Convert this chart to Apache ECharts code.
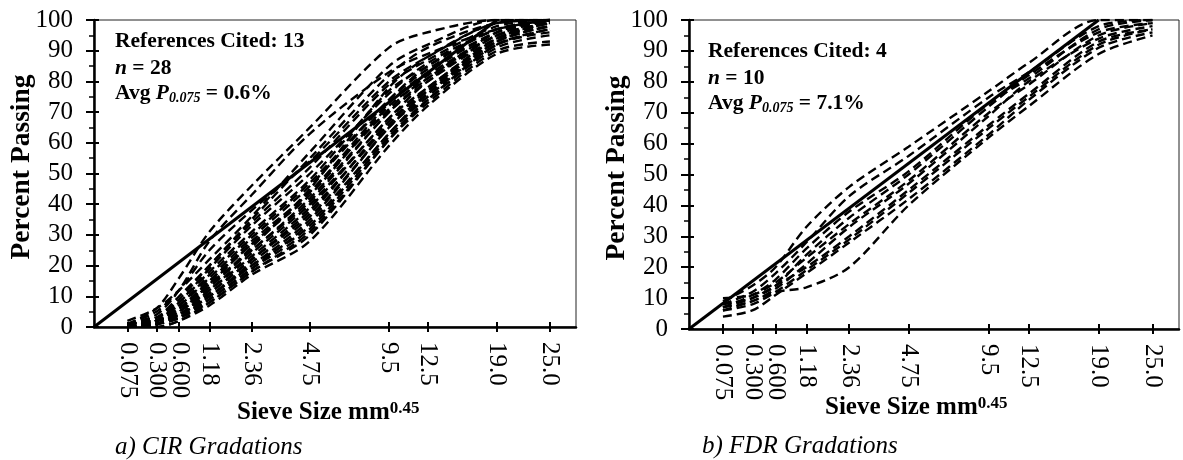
<!DOCTYPE html>
<html><head><meta charset="utf-8">
<script src="https://cdn.jsdelivr.net/npm/echarts@6/dist/echarts.min.js"></script>
<style>html,body{margin:0;padding:0;background:#fff}#c{width:1183px;height:460px}</style>
</head><body><div id="c"></div>
<script>
// ---------- data ----------
const gradationPower = 0.45;
const sieveSizes  = [0.075, 0.3, 0.6, 1.18, 2.36, 4.75, 9.5, 12.5, 19.0, 25.0];
const sieveLabels = ['0.075','0.300','0.600','1.18','2.36','4.75','9.5','12.5','19.0','25.0'];
const maxDensitySize = [0, 19.0];
const maxDensityPass = [0, 100];

// Percent passing at each sieve (0.075 ... 25.0) – CIR gradations (n = 28)
const cirGradations = [
  [1, 6, 16, 31, 46, 65, 91, 96, 100, 100],
  [1, 4, 12, 28, 43, 63, 83, 89, 97, 100],
  [1, 5, 12, 25, 38, 54, 80, 88, 99, 100],
  [1, 3, 9, 20, 34, 52, 79, 87, 98, 100],
  [0, 2, 8, 19, 33, 50, 76, 86, 97, 100],
  [1, 3, 8, 18, 31, 48, 77, 85, 97, 100],
  [0, 2, 7, 17, 30, 47, 74, 84, 96, 100],
  [1, 3, 7, 16, 29, 46, 74, 85, 97, 99],
  [0, 2, 6, 15, 28, 44, 73, 83, 96, 100],
  [1, 2, 6, 15, 27, 44, 71, 82, 95, 99],
  [0, 1, 5, 14, 27, 43, 72, 81, 96, 100],
  [1, 2, 6, 14, 25, 42, 70, 81, 95, 99],
  [0, 2, 5, 13, 25, 41, 70, 80, 94, 98],
  [0, 1, 4, 12, 24, 40, 68, 80, 95, 100],
  [1, 2, 5, 12, 23, 39, 68, 78, 94, 99],
  [0, 1, 4, 11, 22, 38, 66, 78, 93, 98],
  [0, 1, 4, 11, 22, 37, 67, 77, 94, 99],
  [1, 2, 4, 10, 21, 36, 65, 77, 93, 100],
  [0, 1, 3, 10, 20, 35, 65, 76, 92, 97],
  [0, 1, 3, 9, 19, 34, 63, 76, 93, 98],
  [1, 2, 4, 10, 20, 33, 63, 75, 92, 96],
  [0, 1, 3, 9, 19, 32, 62, 74, 91, 95],
  [0, 0, 2, 8, 18, 31, 61, 74, 92, 97],
  [1, 1, 3, 8, 18, 30, 61, 73, 90, 93],
  [0, 0, 2, 7, 17, 28, 59, 72, 89, 92],
  [2, 6, 12, 22, 36, 57, 85, 92, 100, 100],
  [1, 3, 10, 20, 35, 55, 82, 91, 99, 100],
  [0, 2, 6, 13, 26, 45, 78, 88, 99, 100]
];

// FDR gradations (n = 10)
const fdrGradations = [
  [9, 14, 20, 33, 46, 59, 77, 86, 100, 100],
  [8, 12, 18, 28, 43, 56, 75, 83, 98, 100],
  [7, 11, 16, 26, 38, 51, 73, 81, 97, 100],
  [8, 10, 14, 24, 36, 50, 72, 82, 96, 99],
  [10, 11, 15, 23, 34, 48, 70, 79, 95, 99],
  [7, 9, 13, 21, 33, 47, 69, 80, 94, 98],
  [7, 10, 14, 20, 30, 45, 66, 76, 93, 97],
  [6, 8, 12, 19, 29, 44, 65, 75, 92, 97],
  [4, 6, 11, 18, 28, 42, 63, 74, 91, 96],
  [6, 9, 12, 13.5, 20, 40, 62, 72, 89, 95]
];

// ---------- chart ----------
const SERIF = "'Liberation Serif','Times New Roman',serif";
const xTickU = sieveSizes.map(d => Math.pow(d, gradationPower));
function fmtX(v) {
  for (let i = 0; i < xTickU.length; i++) if (Math.abs(xTickU[i] - v) < 1e-6) return sieveLabels[i];
  return '';
}
const grids = [
  {left: 94, top: 20, width: 482, height: 307},
  {left: 689, top: 20, width: 490, height: 309}
];
const xAxes = [], yAxes = [], series = [];
grids.forEach((g, gi) => {
  g.show = true; g.borderColor = '#222'; g.borderWidth = 1; g.backgroundColor = 'transparent';
  xAxes.push({
    gridIndex: gi, type: 'value', min: 0, max: 4.5, position: 'bottom',
    axisLine: {show: true, onZero: false, lineStyle: {color: '#000', width: 2.5}},
    axisTick: {show: true, customValues: xTickU, length: 5, lineStyle: {color: '#000', width: 2}},
    axisLabel: {show: true, customValues: xTickU, rotate: -90, margin: 15, formatter: fmtX,
      fontFamily: SERIF, fontSize: 25, color: '#000'},
    splitLine: {show: false}
  });
  xAxes.push({
    gridIndex: gi, type: 'value', min: 0, max: 4.5, position: 'bottom', offset: 0,
    axisLine: {show: false, onZero: false},
    axisTick: {show: true, inside: true, customValues: xTickU, length: 5, lineStyle: {color: '#000', width: 2}},
    axisLabel: {show: false}, splitLine: {show: false}
  });
  yAxes.push({
    gridIndex: gi, type: 'value', min: 0, max: 100, interval: 10, position: 'left',
    axisLine: {show: true, onZero: false, lineStyle: {color: '#000', width: 2.5}},
    axisTick: {show: true, length: 8, lineStyle: {color: '#000', width: 2}},
    minorTick: {show: true, splitNumber: 2, length: 5, lineStyle: {color: '#000', width: 1.5}},
    axisLabel: {margin: 21, fontFamily: SERIF, fontSize: 25, color: '#000'},
    splitLine: {show: false}, minorSplitLine: {show: false}
  });
  yAxes.push({
    gridIndex: gi, type: 'value', min: 0, max: 100, interval: 10, position: 'left', offset: 0,
    axisLine: {show: false, onZero: false},
    axisTick: {show: true, inside: true, length: 5, lineStyle: {color: '#000', width: 2}},
    axisLabel: {show: false}, splitLine: {show: false}
  });
  const curves = gi === 0 ? cirGradations : fdrGradations;
  curves.forEach(c => {
    series.push({
      type: 'line', xAxisIndex: 2 * gi, yAxisIndex: 2 * gi, silent: true,
      data: sieveSizes.map((d, i) => [Math.pow(d, gradationPower), c[i]]),
      smooth: 0.3, showSymbol: false, symbol: 'none',
      lineStyle: {color: '#000', width: 2.4, type: [9, 5]}
    });
  });
  series.push({
    type: 'line', xAxisIndex: 2 * gi, yAxisIndex: 2 * gi, silent: true, z: 3,
    data: maxDensitySize.map((d, i) => [Math.pow(d, gradationPower), maxDensityPass[i]]),
    showSymbol: false, symbol: 'none',
    lineStyle: {color: '#000', width: 3, type: 'solid'}
  });
});

function txt(x, y, text, extra) {
  return {type: 'text', x: x, y: y, silent: true, style: Object.assign({
    text: text, fill: '#000', fontFamily: SERIF, align: 'left', verticalAlign: 'middle'
  }, extra)};
}
const B = {fontFamily: SERIF, fontWeight: 'bold', fontSize: 21.5};
const richAnn = {
  bi: {fontFamily: SERIF, fontWeight: 'bold', fontStyle: 'italic', fontSize: 21.5, lineHeight: 24},
  sub: {fontFamily: SERIF, fontWeight: 'bold', fontStyle: 'italic', fontSize: 14, lineHeight: 12, verticalAlign: 'bottom'}
};
const richTitle = {
  sup: {fontFamily: SERIF, fontWeight: 'bold', fontSize: 17, lineHeight: 12, verticalAlign: 'top'}
};
const annots = [
  {x: 115, y: [41, 68, 93], refs: 'References Cited: 13', n: '28', p: '0.6%'},
  {x: 708, y: [51, 78, 103], refs: 'References Cited: 4', n: '10', p: '7.1%'}
];
const graphic = [];
annots.forEach(a => {
  graphic.push(txt(a.x, a.y[0], a.refs, Object.assign({}, B, {lineHeight: 24})));
  graphic.push(txt(a.x, a.y[1], '{bi|n} = ' + a.n, Object.assign({}, B, {lineHeight: 24, rich: richAnn})));
  graphic.push(txt(a.x, a.y[2], 'Avg {bi|P}{sub|0.075} = ' + a.p, Object.assign({}, B, {lineHeight: 24, rich: richAnn})));
});
[[237, 413], [825, 408]].forEach(p => {
  graphic.push(txt(p[0], p[1], 'Sieve Size mm{sup|0.45}', {fontFamily: SERIF, fontWeight: 'bold', fontSize: 25, lineHeight: 26, rich: richTitle}));
});
[[22, 167], [617, 168]].forEach(p => {
  graphic.push({type: 'text', x: p[0], y: p[1], rotation: Math.PI / 2, silent: true,
    style: {text: 'Percent Passing', fill: '#000', fontFamily: SERIF, fontWeight: 'bold', fontSize: 27.5, align: 'center', verticalAlign: 'middle'}});
});
graphic.push(txt(115, 447, 'a) CIR Gradations', {fontStyle: 'italic', fontSize: 25}));
graphic.push(txt(702, 446, 'b) FDR Gradations', {fontStyle: 'italic', fontSize: 25}));

const chart = echarts.init(document.getElementById('c'), null, {renderer: 'canvas'});
chart.setOption({
  animation: false,
  backgroundColor: '#fff',
  grid: grids, xAxis: xAxes, yAxis: yAxes, series: series, graphic: graphic
});
</script></body></html>
